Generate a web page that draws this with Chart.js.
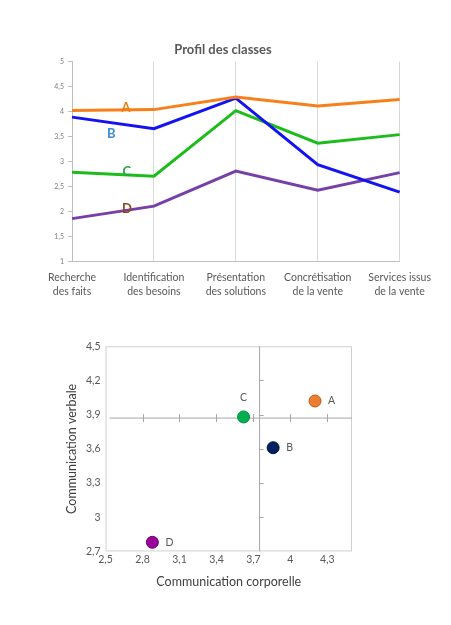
<!DOCTYPE html>
<html>
<head>
<meta charset="utf-8">
<script src="https://cdn.jsdelivr.net/npm/chart.js@4/dist/chart.umd.min.js"></script>
<style>
  body { margin: 0; background: #fff; width: 451px; height: 625px; overflow: hidden; }
  .box { position: absolute; }
  #b1 { left: 10px; top: 36px; width: 430px; height: 272px; }
  #b2 { left: 64px; top: 335px; width: 295px; height: 254px; }
</style>
</head>
<body>
<div class="box" id="b1"><canvas id="chart1"></canvas></div>
<div class="box" id="b2"><canvas id="chart2"></canvas></div>
<script>
// profil des classes
var etapes = [
  ['Recherche', 'des faits'],
  ['Identification', 'des besoins'],
  ['Présentation', 'des solutions'],
  ['Concrétisation', 'de la vente'],
  ['Services issus', 'de la vente']
];
var classeA = [4.02, 4.04, 4.29, 4.11, 4.24];
var classeB = [3.89, 3.66, 4.27, 2.94, 2.39];
var classeC = [2.79, 2.71, 4.02, 3.37, 3.54];
var classeD = [1.86, 2.11, 2.81, 2.43, 2.78];
// where the A/B/C/D letters sit (category index, value)
var lettres = ['A', 'B', 'C', 'D'];
var lettresX = [0.66, 0.48, 0.67, 0.67];
var lettresY = [4.08, 3.55, 2.79, 2.06];

// communication
var classes = ['A', 'B', 'C', 'D'];
var corporelle = [4.20, 3.86, 3.62, 2.88];
var verbale = [4.02, 3.61, 3.88, 2.78];
var ticksCorpo = [2.5, 2.8, 3.1, 3.4, 3.7, 4.0, 4.3];
var ticksVerbale = [2.7, 3.0, 3.3, 3.6, 3.9, 4.2, 4.5];
var croixX = 3.75;
var croixY = 3.87;

var police = 'Lato, "Open Sans", sans-serif';
var gris = '#595959';

function virgule(v) {
  return String(Math.round(v * 10) / 10).replace('.', ',');
}

var lettresPlugin = {
  id: 'lettres',
  afterDatasetsDraw: function (chart) {
    var ctx = chart.ctx;
    var couleurs = ['#f07c12', '#3d8bd6', '#22a83a', '#8a4a1c'];
    ctx.save();
    ctx.font = 'bold 13px ' + police;
    ctx.textAlign = 'center';
    ctx.textBaseline = 'middle';
    for (var i = 0; i < lettres.length; i++) {
      ctx.fillStyle = couleurs[i];
      ctx.fillText(lettres[i], chart.scales.x.getPixelForValue(lettresX[i]), chart.scales.y.getPixelForValue(lettresY[i]));
    }
    ctx.restore();
  }
};

new Chart(document.getElementById('chart1'), {
  type: 'line',
  data: {
    labels: etapes,
    datasets: [
      { label: 'A', data: classeA, borderColor: '#f7801a', borderWidth: 3 },
      { label: 'B', data: classeB, borderColor: '#1212f2', borderWidth: 3 },
      { label: 'C', data: classeC, borderColor: '#1cbc1c', borderWidth: 3 },
      { label: 'D', data: classeD, borderColor: '#7640a8', borderWidth: 3 }
    ]
  },
  options: {
    responsive: true,
    maintainAspectRatio: false,
    animation: false,
    events: [],
    elements: { point: { radius: 0 }, line: { tension: 0 } },
    layout: { padding: { left: 0, right: 4, top: 0, bottom: 0 } },
    plugins: {
      legend: { display: false },
      tooltip: { enabled: false },
      title: {
        display: true,
        text: 'Profil des classes',
        color: gris,
        font: { family: police, size: 13, weight: 'bold' },
        padding: { top: 6, bottom: 4 }
      }
    },
    scales: {
      x: {
        offset: false,
        grid: { color: '#d9d9d9', drawTicks: false },
        border: { color: '#bfbfbf' },
        ticks: {
          color: gris,
          maxRotation: 0,
          autoSkip: false,
          padding: 9,
          font: { family: police, size: 10.5, lineHeight: 1.35 }
        }
      },
      y: {
        min: 1,
        max: 5,
        grid: { drawOnChartArea: false, drawTicks: true, tickLength: 4, color: '#bfbfbf' },
        border: { color: '#bfbfbf' },
        afterFit: function (s) { s.width = 62; },
        ticks: {
          stepSize: 0.5,
          color: '#808080',
          padding: 4,
          font: { family: police, size: 7 },
          callback: function (v) { return virgule(v); }
        }
      }
    }
  },
  plugins: [lettresPlugin]
});

var croixPlugin = {
  id: 'croix',
  beforeDatasetsDraw: function (chart) {
    var ctx = chart.ctx;
    var a = chart.chartArea;
    var sx = chart.scales.x, sy = chart.scales.y;
    var px = sx.getPixelForValue(croixX);
    var py = sy.getPixelForValue(croixY);
    ctx.save();
    ctx.strokeStyle = '#d0d0d0';
    ctx.lineWidth = 1;
    ctx.strokeRect(a.left + 0.5, a.top + 0.5, a.right - a.left - 1, a.bottom - a.top - 1);
    ctx.strokeStyle = '#a6a6a6';
    ctx.beginPath();
    ctx.moveTo(a.left + 4, py);
    ctx.lineTo(a.right, py);
    ctx.moveTo(px, a.top);
    ctx.lineTo(px, a.bottom);
    ticksCorpo.forEach(function (t) {
      if (t <= sx.min) return;
      var x = Math.round(sx.getPixelForValue(t)) + 0.5;
      ctx.moveTo(x, py - 4);
      ctx.lineTo(x, py + 4);
    });
    ticksVerbale.forEach(function (t) {
      if (t <= sy.min || t >= sy.max) return;
      var y = Math.round(sy.getPixelForValue(t)) + 0.5;
      ctx.moveTo(px, y);
      ctx.lineTo(px + 4, y);
    });
    ctx.stroke();
    ctx.restore();
  },
  afterDatasetsDraw: function (chart) {
    var ctx = chart.ctx;
    var sx = chart.scales.x, sy = chart.scales.y;
    ctx.save();
    ctx.font = '10.5px ' + police;
    ctx.fillStyle = gris;
    ctx.textBaseline = 'middle';
    for (var i = 0; i < classes.length; i++) {
      var x = sx.getPixelForValue(corporelle[i]);
      var y = sy.getPixelForValue(verbale[i]);
      if (classes[i] === 'C') {
        ctx.textAlign = 'center';
        ctx.fillText(classes[i], x, y - 19);
      } else {
        ctx.textAlign = 'left';
        ctx.fillText(classes[i], x + 13, y);
      }
    }
    ctx.restore();
  }
};

var points = corporelle.map(function (v, i) { return { x: v, y: verbale[i] }; });

new Chart(document.getElementById('chart2'), {
  type: 'scatter',
  data: {
    datasets: [{
      label: 'classes',
      data: points,
      pointRadius: 6,
      pointBackgroundColor: ['#ed7d31', '#002060', '#00b050', '#990099'],
      pointBorderColor: ['#b85a1c', '#001540', '#008a3e', '#700070'],
      pointBorderWidth: 1
    }]
  },
  options: {
    responsive: true,
    maintainAspectRatio: false,
    animation: false,
    events: [],
    layout: { padding: { left: 0, right: 0, top: 6, bottom: 0 } },
    plugins: { legend: { display: false }, tooltip: { enabled: false } },
    scales: {
      x: {
        min: 2.5,
        max: 4.5,
        afterBuildTicks: function (s) { s.ticks = ticksCorpo.map(function (v) { return { value: v }; }); },
        grid: { display: false, drawTicks: false },
        border: { display: false },
        ticks: {
          color: gris,
          padding: 2,
          font: { family: police, size: 10.5 },
          callback: function (v) { return virgule(v); }
        },
        title: {
          display: true,
          text: 'Communication corporelle',
          color: '#404040',
          padding: { top: 6, bottom: 0 },
          font: { family: police, size: 12.5 }
        }
      },
      y: {
        min: 2.7,
        max: 4.5,
        afterBuildTicks: function (s) { s.ticks = ticksVerbale.map(function (v) { return { value: v }; }); },
        grid: { display: false, drawTicks: false },
        border: { display: false },
        ticks: {
          color: gris,
          padding: 5,
          font: { family: police, size: 10.5 },
          callback: function (v) { return virgule(v); }
        },
        title: {
          display: true,
          text: 'Communication verbale',
          color: '#404040',
          padding: { top: 0, bottom: 2 },
          font: { family: police, size: 12.5 }
        }
      }
    }
  },
  plugins: [croixPlugin]
});
</script>
</body>
</html>
